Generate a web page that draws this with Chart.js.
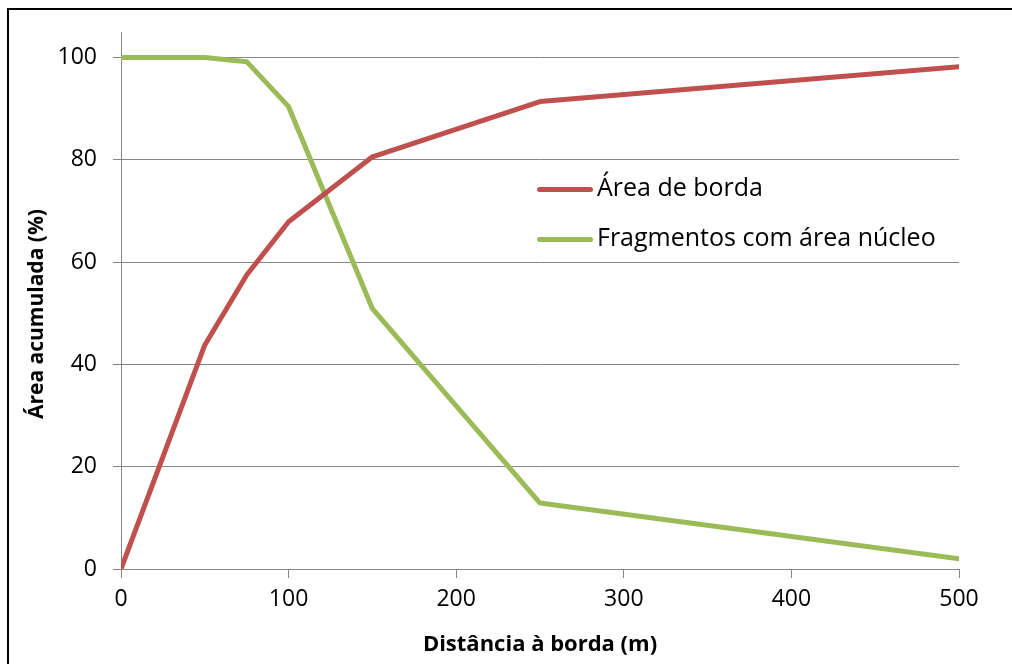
<!DOCTYPE html>
<html>
<head>
<meta charset="utf-8">
<script src="https://cdn.jsdelivr.net/npm/chart.js@4.4.0/dist/chart.umd.min.js"></script>
<style>
  html, body { margin: 0; padding: 0; background: #fff; }
  #wrap { position: relative; width: 1012px; height: 664px; overflow: hidden; font-family: "Open Sans", sans-serif; }
  #frame { position: absolute; left: 7px; top: 8px; width: 1100px; height: 800px; border: 2px solid #000; box-sizing: border-box; }
  canvas { position: absolute; left: 0; top: 0; }
  .legenda { position: absolute; left: 537px; font-size: 25px; color: #000; line-height: 30px; white-space: nowrap; }
  .legenda span.linha { display: inline-block; width: 56px; height: 5px; border-radius: 3px; vertical-align: middle; margin-right: 4px; }
  #tituloX { position: absolute; left: 121px; width: 838px; top: 627px; text-align: center; font-weight: bold; font-size: 22px; line-height: 30px; }
  #tituloY { position: absolute; left: 35px; top: 314px; transform: translate(-50%, -50%) rotate(-90deg); font-weight: bold; font-size: 21px; white-space: nowrap; line-height: 28px; }
</style>
</head>
<body>
<div id="wrap">
  <div id="frame"></div>
  <canvas id="grafico" width="1012" height="664"></canvas>
  <div class="legenda" style="top:171px"><span class="linha" style="background:#C0504D"></span>Área de borda</div>
  <div class="legenda" style="top:221px"><span class="linha" style="background:#9BBB59"></span>Fragmentos com área núcleo</div>
  <div id="tituloX">Distância à borda (m)</div>
  <div id="tituloY">Área acumulada (%)</div>
</div>
<script>
// dados
const distancias = [0, 50, 75, 100, 150, 250, 500];
const areaBorda = [0, 43.8, 57.5, 67.9, 80.6, 91.4, 98.2];
const fragmentosNucleo = [100, 100, 99.2, 90.4, 50.9, 12.9, 2.0];
const ticksX = [0, 100, 200, 300, 400, 500];
const ticksY = [0, 20, 40, 60, 80, 100];

const corGrade = '#868686';

function pontos(valores) {
    return distancias.map((d, i) => ({ x: d, y: valores[i] }));
}

new Chart(document.getElementById('grafico'), {
    type: 'line',
    data: {
        datasets: [
            { label: 'Área de borda', data: pontos(areaBorda), borderColor: '#C0504D', borderWidth: 5, pointRadius: 0, borderCapStyle: 'round', borderJoinStyle: 'round', tension: 0 },
            { label: 'Fragmentos com área núcleo', data: pontos(fragmentosNucleo), borderColor: '#9BBB59', borderWidth: 5, pointRadius: 0, borderCapStyle: 'round', borderJoinStyle: 'round', tension: 0 }
        ]
    },
    options: {
        responsive: false,
        animation: false,
        layout: { padding: { left: 0, right: 53, top: 32, bottom: 0 } },
        plugins: { legend: { display: false }, tooltip: { enabled: false } },
        scales: {
            x: {
                type: 'linear', min: 0, max: 500,
                afterBuildTicks: s => { s.ticks = ticksX.map(v => ({ value: v })); },
                afterFit: s => { s.height = 95; },
                grid: { drawOnChartArea: false, color: corGrade, tickLength: 9, tickColor: corGrade },
                border: { color: corGrade, width: 1 },
                ticks: { color: '#000', font: { family: 'Open Sans', size: 23 }, padding: 8, maxRotation: 0 }
            },
            y: {
                min: 0, max: 105,
                afterBuildTicks: s => { s.ticks = ticksY.map(v => ({ value: v })); },
                afterFit: s => { s.width = 121; },
                grid: { color: corGrade, tickLength: 8, tickColor: corGrade },
                border: { color: corGrade, width: 1 },
                ticks: { color: '#000', font: { family: 'Open Sans', size: 23 }, padding: 16 }
            }
        }
    }
});
</script>
</body>
</html>
